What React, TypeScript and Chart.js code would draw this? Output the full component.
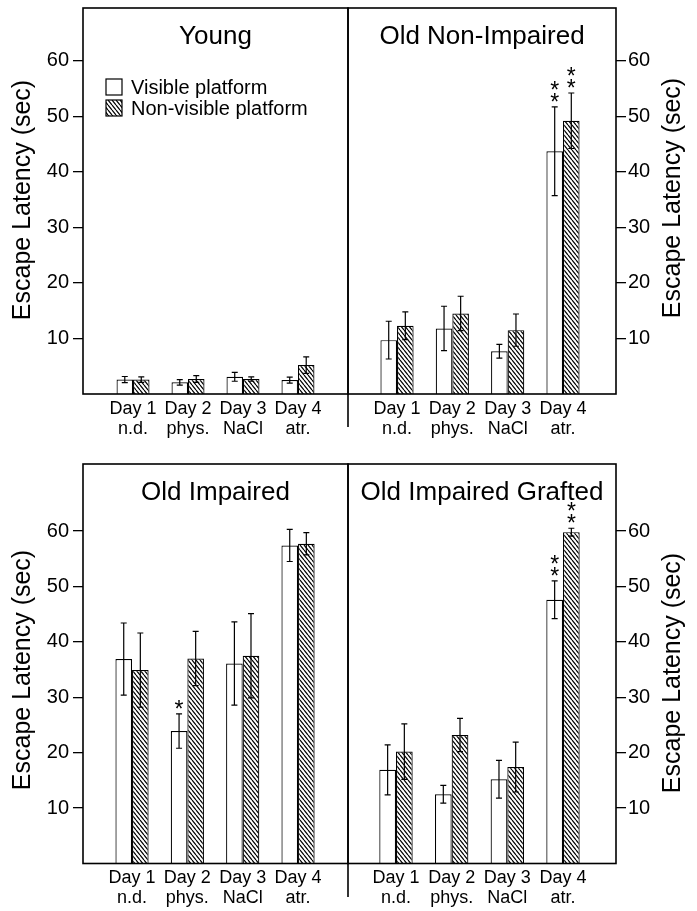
import React, { useEffect, useRef } from 'react';
import { Chart, registerables } from 'chart.js';

Chart.register(...registerables);

// ---------------- data ----------------
const categories = [
  ['Day 1', 'n.d.'],
  ['Day 2', 'phys.'],
  ['Day 3', 'NaCl'],
  ['Day 4', 'atr.'],
];
const seriesLabels = ['Visible platform', 'Non-visible platform'];
const yTickValues = [10, 20, 30, 40, 50, 60];
const axisTitle = 'Escape Latency (sec)';
const panelTitles = ['Young', 'Old Non-Impaired', 'Old Impaired', 'Old Impaired Grafted'];

const youngVisible = [2.6, 2.1, 3.1, 2.5];
const youngVisibleErr = [0.55, 0.5, 0.8, 0.55];
const youngVisibleStars = [0, 0, 0, 0];
const youngNonVisible = [2.6, 2.7, 2.7, 5.2];
const youngNonVisibleErr = [0.5, 0.6, 0.4, 1.5];
const youngNonVisibleStars = [0, 0, 0, 0];

const oldNonImpairedVisible = [9.7, 11.8, 7.7, 43.7];
const oldNonImpairedVisibleErr = [3.4, 4.0, 1.25, 8.0];
const oldNonImpairedVisibleStars = [0, 0, 0, 2];
const oldNonImpairedNonVisible = [12.3, 14.5, 11.5, 49.2];
const oldNonImpairedNonVisibleErr = [2.5, 3.1, 2.9, 5.0];
const oldNonImpairedNonVisibleStars = [0, 0, 0, 2];

const oldImpairedVisible = [36.9, 23.9, 36.1, 57.4];
const oldImpairedVisibleErr = [6.5, 3.1, 7.5, 2.9];
const oldImpairedVisibleStars = [0, 1, 0, 0];
const oldImpairedNonVisible = [34.9, 37.0, 37.5, 57.7];
const oldImpairedNonVisibleErr = [6.7, 4.9, 7.6, 2.0];
const oldImpairedNonVisibleStars = [0, 0, 0, 0];

const oldImpairedGraftedVisible = [16.9, 12.5, 15.2, 47.6];
const oldImpairedGraftedVisibleErr = [4.5, 1.6, 3.4, 3.4];
const oldImpairedGraftedVisibleStars = [0, 0, 0, 2];
const oldImpairedGraftedNonVisible = [20.2, 23.2, 17.4, 59.8];
const oldImpairedGraftedNonVisibleErr = [5.0, 3.0, 4.5, 0.7];
const oldImpairedGraftedNonVisibleStars = [0, 0, 0, 2];

// ---------------- layout ----------------
const FAMILY = '"Liberation Sans", Arial, Helvetica, sans-serif';

const panels = [
  {
    title: panelTitles[0], left: 0, top: 0, w: 350, h: 440,
    padding: { left: 0, top: 8, right: 2, bottom: 0 },
    side: 'left', yAxisWidth: 83, xAxisHeight: 46, yMax: 69.5,
    xMin: 0.09, xMax: 4.91, legend: true,
    axisTitleX: 23.5, axisTitleCY: 200, dividerBottom: 427,
    visible: youngVisible, visibleErr: youngVisibleErr, visibleStars: youngVisibleStars,
    nonVisible: youngNonVisible, nonVisibleErr: youngNonVisibleErr, nonVisibleStars: youngNonVisibleStars,
  },
  {
    title: panelTitles[1], left: 340, top: 0, w: 357, h: 440,
    padding: { left: 8, top: 8, right: 0, bottom: 0 },
    side: 'right', yAxisWidth: 81, xAxisHeight: 46, yMax: 69.5,
    xMin: 0.114, xMax: 4.958, legend: false,
    axisTitleX: 333, axisTitleCY: 198, dividerBottom: 0,
    visible: oldNonImpairedVisible, visibleErr: oldNonImpairedVisibleErr, visibleStars: oldNonImpairedVisibleStars,
    nonVisible: oldNonImpairedNonVisible, nonVisibleErr: oldNonImpairedNonVisibleErr, nonVisibleStars: oldNonImpairedNonVisibleStars,
  },
  {
    title: panelTitles[2], left: 0, top: 440, w: 350, h: 471,
    padding: { left: 0, top: 24, right: 2, bottom: 0 },
    side: 'left', yAxisWidth: 83, xAxisHeight: 47.5, yMax: 72.1,
    xMin: 0.114, xMax: 4.903, legend: false,
    axisTitleX: 23.5, axisTitleCY: 230, dividerBottom: 457,
    visible: oldImpairedVisible, visibleErr: oldImpairedVisibleErr, visibleStars: oldImpairedVisibleStars,
    nonVisible: oldImpairedNonVisible, nonVisibleErr: oldImpairedNonVisibleErr, nonVisibleStars: oldImpairedNonVisibleStars,
  },
  {
    title: panelTitles[3], left: 340, top: 440, w: 357, h: 471,
    padding: { left: 8, top: 24, right: 0, bottom: 0 },
    side: 'right', yAxisWidth: 81, xAxisHeight: 47.5, yMax: 72.1,
    xMin: 0.138, xMax: 4.952, legend: false,
    axisTitleX: 333, axisTitleCY: 233, dividerBottom: 0,
    visible: oldImpairedGraftedVisible, visibleErr: oldImpairedGraftedVisibleErr, visibleStars: oldImpairedGraftedVisibleStars,
    nonVisible: oldImpairedGraftedNonVisible, nonVisibleErr: oldImpairedGraftedNonVisibleErr, nonVisibleStars: oldImpairedGraftedNonVisibleStars,
  },
];

let hatchCache: CanvasPattern | null = null;
function getHatch(): CanvasPattern {
  if (hatchCache) return hatchCache;
  const c = document.createElement('canvas');
  const tw = 4, th = 5;
  c.width = tw; c.height = th;
  const g = c.getContext('2d')!;
  g.fillStyle = '#fff';
  g.fillRect(0, 0, tw, th);
  g.strokeStyle = '#000';
  g.lineWidth = 1.2;
  g.beginPath();
  for (const k of [-1, 0, 1]) {
    g.moveTo(k * tw, 0);
    g.lineTo(k * tw + tw, th);
  }
  g.stroke();
  hatchCache = g.createPattern(c, 'repeat')!;
  return hatchCache;
}

const decorPlugin = {
  id: 'decor',
  afterDatasetsDraw(chart: any, _args: any, opts: any) {
    const ctx: CanvasRenderingContext2D = chart.ctx;
    const { left, right, top, bottom } = chart.chartArea;
    const yScale = chart.scales.y;
    ctx.save();

    // error bars and significance stars
    chart.data.datasets.forEach((ds: any, di: number) => {
      const meta = chart.getDatasetMeta(di);
      meta.data.forEach((bar: any, i: number) => {
        const v = ds.data[i].y;
        const e = ds.errors[i];
        const hi = yScale.getPixelForValue(v + e);
        const lo = yScale.getPixelForValue(v - e);
        const x = bar.x;
        ctx.strokeStyle = '#000';
        ctx.lineWidth = 1.2;
        ctx.beginPath();
        ctx.moveTo(x, hi); ctx.lineTo(x, lo);
        ctx.moveTo(x - 3, hi); ctx.lineTo(x + 3, hi);
        ctx.moveTo(x - 3, lo); ctx.lineTo(x + 3, lo);
        ctx.stroke();
        const n = ds.stars[i];
        ctx.fillStyle = '#000';
        ctx.font = `23px ${FAMILY}`;
        ctx.textAlign = 'center';
        ctx.textBaseline = 'alphabetic';
        for (let k = 0; k < n; k++) {
          const cy = hi - 10 - 12 * k;
          ctx.fillText('*', x, cy + 13);
        }
      });
    });

    // frame
    ctx.strokeStyle = '#000';
    ctx.lineWidth = 1.6;
    ctx.strokeRect(left, top, right - left, bottom - top);
    if (opts.dividerBottom) {
      ctx.beginPath();
      ctx.moveTo(right, bottom);
      ctx.lineTo(right, opts.dividerBottom);
      ctx.stroke();
    }

    // panel title
    ctx.fillStyle = '#000';
    ctx.font = `26px ${FAMILY}`;
    ctx.textAlign = 'center';
    ctx.textBaseline = 'alphabetic';
    ctx.fillText(opts.title, (left + right) / 2, top + 36);

    // y axis title (reads bottom-to-top on both sides)
    ctx.save();
    ctx.translate(opts.axisTitleX, opts.axisTitleCY);
    ctx.rotate(-Math.PI / 2);
    ctx.font = `25px ${FAMILY}`;
    ctx.textAlign = 'center';
    ctx.textBaseline = 'middle';
    ctx.fillText(axisTitle, 0, 0);
    ctx.restore();

    // legend
    if (opts.legend) {
      ctx.font = `20px ${FAMILY}`;
      ctx.textAlign = 'left';
      ctx.textBaseline = 'alphabetic';
      chart.data.datasets.forEach((ds: any, di: number) => {
        const bx = left + 23;
        const by = top + 71 + di * 21;
        ctx.fillStyle = ds.backgroundColor;
        ctx.fillRect(bx, by, 16, 16);
        ctx.strokeStyle = '#000';
        ctx.lineWidth = 1.2;
        ctx.strokeRect(bx, by, 16, 16);
        ctx.fillStyle = '#000';
        ctx.fillText(ds.label, bx + 25, by + 14.5);
      });
    }
    ctx.restore();
  },
};

function buildConfig(p: any): any {
  const hatch = getHatch();
  const mk = (vals: number[]) => vals.map((v, i) => ({ x: i + 1, y: v }));
  return {
    type: 'bar',
    data: {
      datasets: [
        {
          label: seriesLabels[0], data: mk(p.visible), errors: p.visibleErr, stars: p.visibleStars,
          backgroundColor: '#ffffff', borderColor: '#000', borderWidth: 1.2,
          categoryPercentage: 0.6, barPercentage: 1.0,
        },
        {
          label: seriesLabels[1], data: mk(p.nonVisible), errors: p.nonVisibleErr, stars: p.nonVisibleStars,
          backgroundColor: hatch, borderColor: '#000', borderWidth: 1.2,
          categoryPercentage: 0.6, barPercentage: 1.0,
        },
      ],
    },
    options: {
      animation: false,
      responsive: false,
      devicePixelRatio: 1,
      layout: { padding: p.padding },
      plugins: {
        legend: { display: false },
        tooltip: { enabled: false },
        title: { display: false },
        decor: {
          title: p.title, legend: p.legend, axisTitleX: p.axisTitleX,
          axisTitleCY: p.axisTitleCY, dividerBottom: p.dividerBottom,
        },
      },
      scales: {
        x: {
          type: 'linear', min: p.xMin, max: p.xMax, offset: false,
          grid: { display: false, drawTicks: false, offset: false },
          border: { display: false },
          ticks: {
            color: '#000', padding: 5,
            font: { family: FAMILY, size: 18, lineHeight: 1.1 },
            callback: (v: number) => categories[Math.round(v) - 1] || '',
          },
          afterBuildTicks: (ax: any) => { ax.ticks = categories.map((_, i) => ({ value: i + 1 })); },
          afterFit: (ax: any) => { ax.height = p.xAxisHeight; ax.paddingLeft = 0; ax.paddingRight = 0; },
        },
        y: {
          type: 'linear', position: p.side, min: 0, max: p.yMax,
          grid: {
            drawOnChartArea: false, drawTicks: true, tickLength: 10,
            color: '#000', tickColor: '#000', tickWidth: 1.3, lineWidth: 1.3,
          },
          border: { display: false },
          ticks: {
            color: '#000', padding: p.side === 'left' ? 4 : 2,
            font: { family: FAMILY, size: 20 },
          },
          afterBuildTicks: (ax: any) => { ax.ticks = yTickValues.map((v) => ({ value: v })); },
          afterFit: (ax: any) => { ax.width = p.yAxisWidth; ax.paddingTop = 0; ax.paddingBottom = 0; },
        },
      },
    },
    plugins: [decorPlugin],
  };
}

function Panel({ spec }: { spec: any }) {
  const ref = useRef<HTMLCanvasElement>(null);
  useEffect(() => {
    const chart = new Chart(ref.current as HTMLCanvasElement, buildConfig(spec));
    return () => chart.destroy();
  }, [spec]);
  return (
    <canvas
      ref={ref}
      width={spec.w}
      height={spec.h}
      style={{ position: 'absolute', left: spec.left, top: spec.top, width: spec.w, height: spec.h }}
    />
  );
}

export default function App() {
  return (
    <div style={{ position: 'absolute', left: 0, top: 0, width: 697, height: 911, background: '#fff', overflow: 'hidden' }}>
      {panels.map((p, i) => (
        <Panel key={i} spec={p} />
      ))}
    </div>
  );
}
